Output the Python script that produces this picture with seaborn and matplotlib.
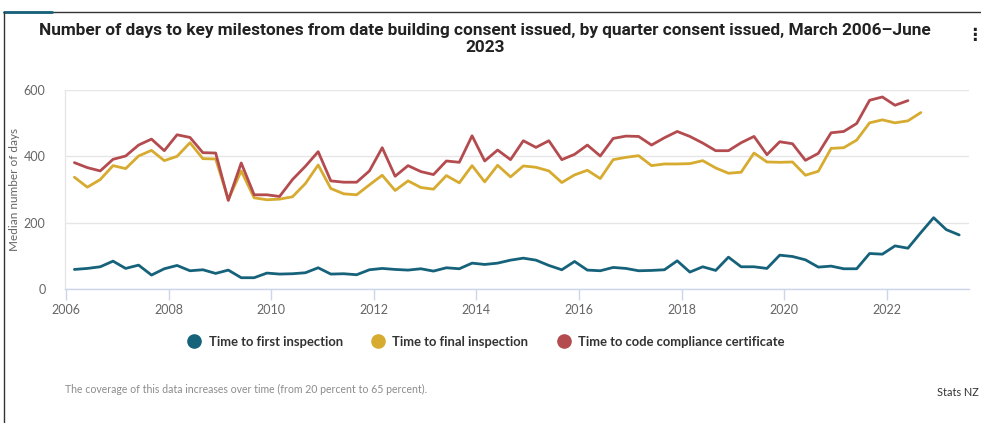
import numpy as np
import pandas as pd
import matplotlib
matplotlib.use("Agg")
import matplotlib.pyplot as plt
import matplotlib.dates as mdates
from matplotlib.lines import Line2D
import seaborn as sns

# ---- data (quarterly, March 2006 onward) ----
first_inspection = [59, 62, 67, 84, 62, 72, 42, 61, 71, 55, 58, 47,
                    57, 34, 34, 48, 45, 46, 49, 64, 45, 46, 43, 58,
                    62, 59, 57, 61, 54, 64, 61, 78, 74, 78, 87, 93,
                    87, 71, 58, 83, 57, 55, 65, 62, 55, 56, 58, 85,
                    51, 67, 56, 96, 67, 67, 62, 102, 98, 88, 66, 69,
                    61, 61, 107, 105, 130, 123, 170, 215, 179, 163]
final_inspection = [337, 307, 330, 372, 363, 401, 418, 387, 400, 441, 393, 392,
                    270, 356, 275, 269, 271, 278, 318, 374, 303, 287, 284, 314,
                    343, 297, 326, 306, 301, 342, 320, 372, 323, 373, 338, 371,
                    367, 356, 321, 344, 358, 333, 390, 397, 402, 372, 377, 377,
                    378, 387, 365, 349, 352, 410, 383, 382, 383, 343, 355, 424,
                    426, 449, 501, 510, 501, 507, 532]
code_compliance = [381, 366, 356, 391, 401, 434, 452, 417, 465, 457, 411, 410,
                   267, 380, 284, 284, 279, 330, 370, 414, 326, 322, 322, 356,
                   426, 340, 372, 354, 345, 386, 382, 462, 386, 419, 390, 447,
                   427, 447, 390, 406, 434, 401, 454, 461, 460, 434, 456, 475,
                   460, 440, 417, 417, 441, 460, 405, 444, 438, 388, 409, 471,
                   475, 499, 569, 579, 554, 568]
series_names = ["Time to first inspection", "Time to final inspection",
                "Time to code compliance certificate"]
colors = ["#15627a", "#d6ab2f", "#b34b4f"]

dates = pd.date_range("2006-03-01", periods=len(first_inspection), freq="3MS")

frames = []
for name, vals in zip(series_names, [first_inspection, final_inspection, code_compliance]):
    frames.append(pd.DataFrame({"date": dates[:len(vals)], "days": vals, "series": name}))
df = pd.concat(frames, ignore_index=True)

# ---- figure ----
sns.set_theme(style="white")
plt.rcParams["font.family"] = ["Lato", "DejaVu Sans"]

W, H = 981, 423
fig = plt.figure(figsize=(W / 100, H / 100), dpi=100)
ax = fig.add_axes([65 / W, 1 - 289 / H, (969 - 65) / W, (289 - 90) / H])

sns.lineplot(data=df, x="date", y="days", hue="series", hue_order=series_names,
             palette=colors, linewidth=2.0, ax=ax, legend=False)

ax.set_ylim(0, 600)
ax.set_yticks([0, 200, 400, 600])
ax.set_xlim(pd.Timestamp("2005-12-24"), pd.Timestamp("2023-08-10"))
ax.xaxis.set_major_locator(mdates.YearLocator(2))
ax.xaxis.set_major_formatter(mdates.DateFormatter("%Y"))
ax.grid(axis="y", color="#e6e6e6", linewidth=1)
ax.grid(axis="x", visible=False)
for s in ["top", "right"]:
    ax.spines[s].set_visible(False)
ax.spines["left"].set_color("#e6e6e6")
ax.spines["left"].set_linewidth(1)
ax.spines["bottom"].set_color("#ccd6eb")
ax.spines["bottom"].set_linewidth(1)
ax.tick_params(axis="x", length=8, width=1, color="#ccd6eb", labelsize=9,
               labelcolor="#666666", pad=3, direction="out", bottom=True)
ax.tick_params(axis="y", length=0, labelsize=9, labelcolor="#666666", pad=14)
ax.set_xlabel("")
ax.set_ylabel("Median number of days", fontsize=8.5, color="#666666", labelpad=3)

# title
fig.text(485 / W, 1 - 30 / H, "Number of days to key milestones from date building consent issued, by quarter consent issued, March 2006\u2013June",
         ha="center", va="center", fontsize=12.4, fontweight="bold", color="#222222",
         family=["Roboto", "DejaVu Sans"])
fig.text(485 / W, 1 - 47 / H, "2023", ha="center", va="center", fontsize=12.4,
         fontweight="bold", color="#222222", family=["Roboto", "DejaVu Sans"])

# legend
handles = [Line2D([0], [0], marker="o", linestyle="", markersize=9.5,
                  markerfacecolor=c, markeredgecolor=c) for c in colors]
leg = fig.legend(handles, series_names, loc="center", bbox_to_anchor=(486 / W, 1 - 342 / H),
                 ncol=3, frameon=False, fontsize=9.4, handletextpad=0.6, columnspacing=2.2,
                 handlelength=1.0)
for t in leg.get_texts():
    t.set_fontweight("bold")
    t.set_color("#333333")

# footer
fig.text(65 / W, 1 - 389 / H, "The coverage of this data increases over time (from 20 percent to 65 percent).",
         ha="left", va="center", fontsize=7.6, color="#8c8c8c")
fig.text(979 / W, 1 - 392 / H, "Stats NZ", ha="right", va="center", fontsize=7.8, color="#333333")

# frame decorations
fig.add_artist(Line2D([4 / W, 1], [1 - 12 / H, 1 - 12 / H], color="#333333", linewidth=1,
                      transform=fig.transFigure))
fig.add_artist(Line2D([4 / W, 52 / W], [1 - 12 / H, 1 - 12 / H], color="#15627a", linewidth=2,
                      transform=fig.transFigure))
fig.add_artist(Line2D([4 / W, 4 / W], [0, 1 - 12 / H], color="#333333", linewidth=1,
                      transform=fig.transFigure))
fig.text(974 / W, 1 - 35 / H, "\u22ee", ha="center", va="center", fontsize=12,
         fontweight="bold", color="#222222", family=["DejaVu Sans"])

fig.savefig("out.png", dpi=100)
